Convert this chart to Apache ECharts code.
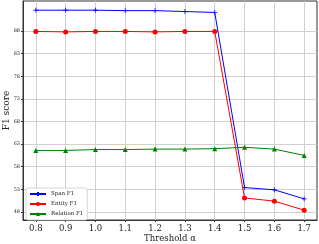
<!DOCTYPE html>
<html><head><meta charset="utf-8">
<script src="https://cdn.jsdelivr.net/npm/echarts@6/dist/echarts.min.js"></script>
<style>html,body{margin:0;padding:0;background:#fff}#c{width:319px;height:244px}</style>
</head><body><div id="c"></div>
<script>
const thresholds = [0.8, 0.9, 1.0, 1.1, 1.2, 1.3, 1.4, 1.5, 1.6, 1.7];
const spanF1 = [92.6, 92.6, 92.6, 92.5, 92.5, 92.3, 92.1, 53.4, 52.9, 50.9];
const entityF1 = [87.9, 87.8, 87.9, 87.9, 87.8, 87.9, 87.9, 51.1, 50.4, 48.4];
const relationF1 = [61.6, 61.6, 61.8, 61.8, 61.9, 61.9, 62.0, 62.3, 61.9, 60.5];
const yTicks = [48, 53, 58, 63, 68, 73, 78, 83, 88];
const xTicks = [0.8, 0.9, 1.0, 1.1, 1.2, 1.3, 1.4, 1.5, 1.6, 1.7];

const serif = '"DejaVu Serif", "Liberation Serif", serif';
const chart = echarts.init(document.getElementById('c'), null, {renderer: 'canvas'});
const mk = (arr) => thresholds.map((t, i) => [t, arr[i]]);
chart.setOption({
  animation: false,
  backgroundColor: '#fff',
  grid: {left: 23, right: 2, top: 1, bottom: 24, show: true, borderColor: '#333', borderWidth: 1,
    containLabel: false, outerBoundsMode: 'none'},
  xAxis: {
    type: 'value', min: 0.757, max: 1.743,
    name: 'Threshold α', nameLocation: 'middle', nameGap: 14, nameMoveOverlap: false,
    nameTextStyle: {fontFamily: serif, fontSize: 8.5, color: '#222'},
    axisLine: {show: true, onZero: false, lineStyle: {color: '#333', width: 1}},
    axisTick: {show: true, length: 2, customValues: xTicks, lineStyle: {color: '#333'}},
    axisLabel: {customValues: xTicks, fontFamily: serif, fontSize: 8.5, color: '#222', margin: 4,
      formatter: v => v.toFixed(1)},
    splitLine: {show: true, lineStyle: {color: '#d0d0d0', width: 1}}
  },
  yAxis: {
    type: 'value', min: 46.23, max: 94.63,
    name: 'F1 score', nameLocation: 'middle', nameGap: 12, nameMoveOverlap: false,
    nameTextStyle: {fontFamily: serif, fontSize: 9, color: '#222'},
    axisLine: {show: true, onZero: false, lineStyle: {color: '#333', width: 1}},
    axisTick: {show: true, length: 2, customValues: yTicks, lineStyle: {color: '#333'}},
    axisLabel: {customValues: yTicks, fontFamily: serif, fontSize: 5, color: '#333', margin: 3},
    splitLine: {show: true, lineStyle: {color: '#d0d0d0', width: 1}}
  },
  legend: {
    orient: 'vertical', left: 26, top: 188,
    itemWidth: 16, itemHeight: 5, itemGap: 4,
    padding: [3, 4, 3, 3],
    backgroundColor: '#fff', borderColor: '#ccc', borderWidth: 0.8, borderRadius: 2,
    textStyle: {fontFamily: serif, fontSize: 5.5, color: '#222'},
    data: ['Span F1', 'Entity F1', 'Relation F1']
  },
  series: [
    {name: 'Span F1', type: 'line', data: mk(spanF1),
      symbol: 'path://M0,5 L10,5 M5,0 L5,10', symbolSize: 5,
      lineStyle: {color: '#0000ff', width: 1},
      itemStyle: {color: 'rgba(0,0,0,0)', borderColor: '#0000ff', borderWidth: 0.8}},
    {name: 'Entity F1', type: 'line', data: mk(entityF1),
      symbol: 'circle', symbolSize: 5,
      lineStyle: {color: '#ff0000', width: 1},
      itemStyle: {color: '#ff0000'}},
    {name: 'Relation F1', type: 'line', data: mk(relationF1),
      symbol: 'triangle', symbolSize: 5,
      lineStyle: {color: '#008000', width: 1},
      itemStyle: {color: '#008000'}}
  ]
});
</script></body></html>
